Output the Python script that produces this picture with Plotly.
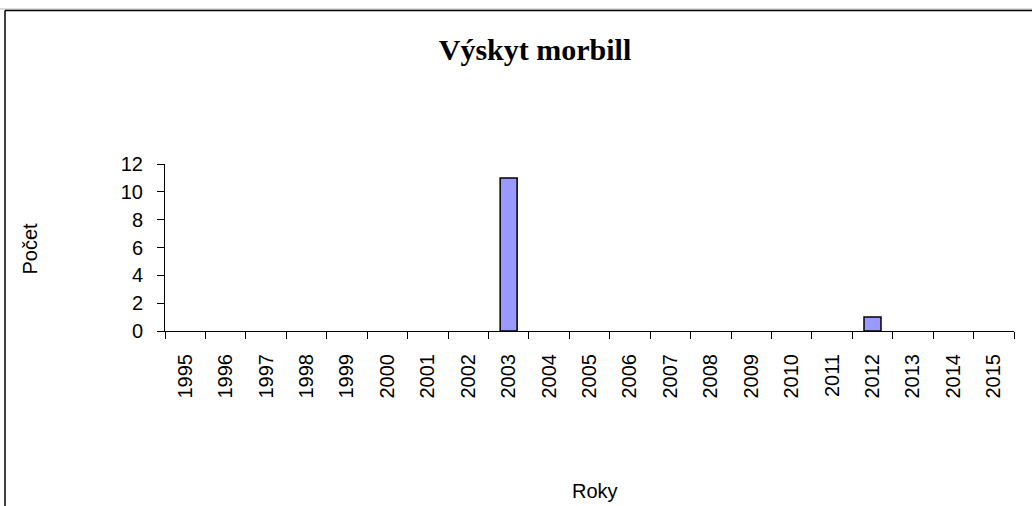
import plotly.graph_objects as go

# Výskyt morbill - počet případů podle roku
roky = [str(r) for r in range(1995, 2016)]
pocet = [0, 0, 0, 0, 0, 0, 0, 0, 11, 0, 0, 0, 0, 0, 0, 0, 0, 1, 0, 0, 0]

W, H = 1032, 506
L, R, T, B = 165, 1014, 164, 331  # plot area in pixels


def px_x(p):
    return (p - L) / (R - L)


def px_y(p):
    return (B - p) / (B - T)


# no outline on empty bars, Excel doesn't draw them
obrys = [1.5 if v else 0 for v in pocet]

fig = go.Figure(go.Bar(
    x=roky, y=pocet,
    marker=dict(color="#9999FF", line=dict(color="black", width=obrys)),
))

fig.update_layout(
    width=W, height=H,
    margin=dict(l=L, r=W - R, t=T, b=H - B),
    plot_bgcolor="white", paper_bgcolor="white",
    bargap=0.58,
    showlegend=False,
    font=dict(family="Liberation Sans, Arial", size=20, color="black"),
    title=dict(text="<b>Výskyt morbill</b>", xref="container", x=535 / W,
               xanchor="center", yref="container", y=1 - 49 / H, yanchor="middle",
               font=dict(family="Liberation Serif, Times New Roman", size=30, color="black")),
)

fig.update_xaxes(
    type="category", showline=True, linecolor="black", linewidth=1,
    ticks="outside", ticklen=7, tickcolor="black", tickson="boundaries",
    tickangle=-90, showgrid=False, zeroline=False, ticklabelstandoff=14,
    tickfont=dict(size=20),
)
fig.update_yaxes(
    range=[0, 12], dtick=2, showline=True, linecolor="black", linewidth=1,
    ticks="outside", ticklen=7, tickcolor="black", showgrid=False, zeroline=False,
    ticklabelstandoff=10, tickfont=dict(size=20),
)

fig.add_annotation(text="Počet", xref="paper", yref="paper", x=px_x(29.5), y=px_y(249),
                   textangle=-90, showarrow=False, font=dict(size=20),
                   xanchor="center", yanchor="middle")
fig.add_annotation(text="Roky", xref="paper", yref="paper", x=px_x(595), y=px_y(491),
                   showarrow=False, font=dict(size=20),
                   xanchor="center", yanchor="middle")

# chart border (top and left visible)
fig.add_shape(type="line", xref="paper", yref="paper", x0=px_x(0), x1=px_x(W),
              y0=px_y(9), y1=px_y(9), line=dict(color="#bbbbbb", width=1))
fig.add_shape(type="line", xref="paper", yref="paper", x0=px_x(5), x1=px_x(W),
              y0=px_y(10.5), y1=px_y(10.5), line=dict(color="black", width=1.5))
fig.add_shape(type="line", xref="paper", yref="paper", x0=px_x(5), x1=px_x(5),
              y0=px_y(10.5), y1=px_y(H), line=dict(color="black", width=1.5))

fig.write_html("out.html", config={"displayModeBar": False},
               post_script="document.body.style.margin='0';")
